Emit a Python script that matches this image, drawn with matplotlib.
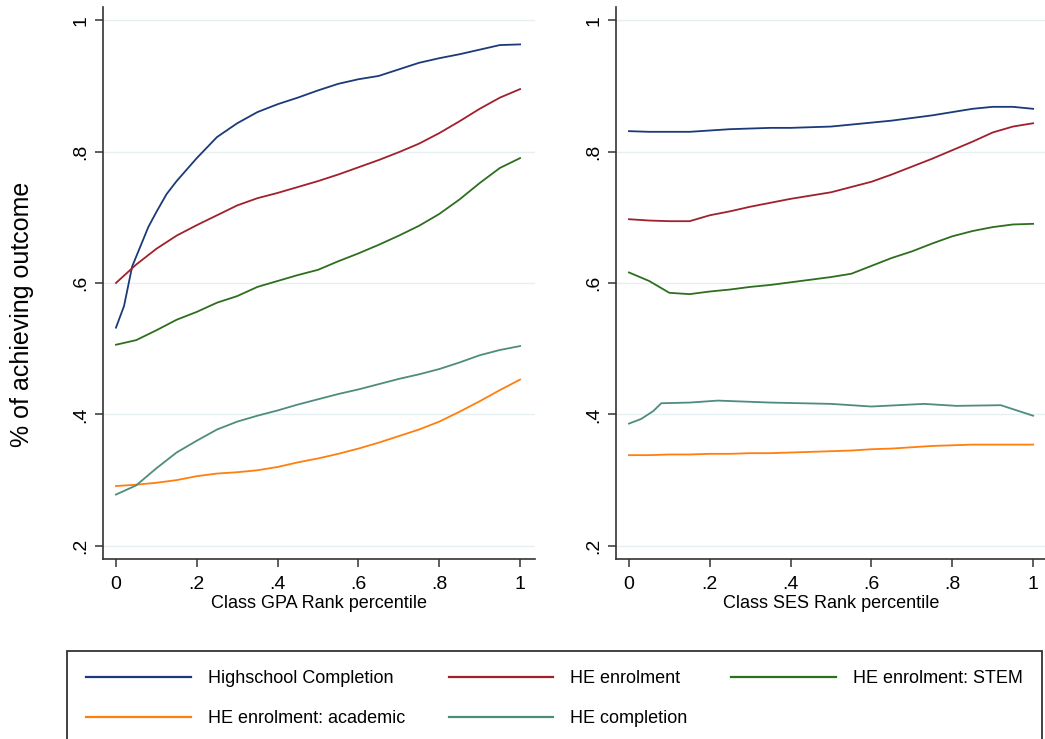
import numpy as np
import matplotlib
matplotlib.use("Agg")
import matplotlib.pyplot as plt
from matplotlib.lines import Line2D

plt.rcParams["font.family"] = ["Liberation Sans", "DejaVu Sans"]

#%%
# data
pct = np.round(np.arange(0, 1.0001, 0.05), 2)

# left panel: Class GPA rank percentile
gpa_hs_x = [0, 0.02, 0.04, 0.06, 0.08, 0.10, 0.125, 0.15, 0.2, 0.25, 0.3, 0.35, 0.4, 0.45,
            0.5, 0.55, 0.6, 0.65, 0.7, 0.75, 0.8, 0.85, 0.9, 0.95, 1.0]
gpa_hs = [0.532, 0.565, 0.625, 0.655, 0.685, 0.708, 0.735, 0.755, 0.79, 0.822, 0.843, 0.86,
          0.872, 0.882, 0.893, 0.903, 0.91, 0.915, 0.925, 0.935, 0.942, 0.948, 0.955, 0.962, 0.963]
gpa_enrol = [0.600, 0.628, 0.652, 0.672, 0.688, 0.703, 0.718, 0.729, 0.737, 0.746, 0.755,
             0.765, 0.776, 0.787, 0.799, 0.812, 0.828, 0.846, 0.865, 0.882, 0.895]
gpa_stem = [0.506, 0.513, 0.528, 0.544, 0.556, 0.570, 0.580, 0.594, 0.603, 0.612, 0.620,
            0.633, 0.645, 0.658, 0.672, 0.687, 0.705, 0.727, 0.752, 0.775, 0.790]
gpa_acad = [0.291, 0.293, 0.296, 0.300, 0.306, 0.310, 0.312, 0.315, 0.320, 0.327, 0.333,
            0.340, 0.348, 0.357, 0.367, 0.377, 0.389, 0.404, 0.420, 0.437, 0.453]
gpa_compl = [0.278, 0.292, 0.318, 0.342, 0.360, 0.377, 0.389, 0.398, 0.406, 0.415, 0.423,
             0.431, 0.438, 0.446, 0.454, 0.461, 0.469, 0.479, 0.490, 0.498, 0.504]

# right panel: Class SES rank percentile
ses_hs = [0.831, 0.830, 0.830, 0.830, 0.832, 0.834, 0.835, 0.836, 0.836, 0.837, 0.838,
          0.841, 0.844, 0.847, 0.851, 0.855, 0.860, 0.865, 0.868, 0.868, 0.865]
ses_enrol = [0.697, 0.695, 0.694, 0.694, 0.703, 0.709, 0.716, 0.722, 0.728, 0.733, 0.738,
             0.746, 0.754, 0.765, 0.777, 0.789, 0.802, 0.815, 0.829, 0.838, 0.843]
ses_stem = [0.616, 0.603, 0.585, 0.583, 0.587, 0.590, 0.594, 0.597, 0.601, 0.605, 0.609,
            0.614, 0.626, 0.638, 0.648, 0.660, 0.671, 0.679, 0.685, 0.689, 0.690]
ses_acad = [0.338, 0.338, 0.339, 0.339, 0.340, 0.340, 0.341, 0.341, 0.342, 0.343, 0.344,
            0.345, 0.347, 0.348, 0.350, 0.352, 0.353, 0.354, 0.354, 0.354, 0.354]
ses_compl_x = [0, 0.03, 0.06, 0.08, 0.15, 0.22, 0.35, 0.5, 0.6, 0.73, 0.81, 0.92, 1.0]
ses_compl = [0.386, 0.393, 0.405, 0.417, 0.418, 0.421, 0.418, 0.416, 0.412, 0.416, 0.413, 0.414, 0.398]

labels = ["Highschool Completion", "HE enrolment", "HE enrolment: STEM",
          "HE enrolment: academic", "HE completion"]
colors = ["#1a3a78", "#a0202c", "#2e6e1e", "#ff7f0e", "#4e8c7c"]

yticks = [0.2, 0.4, 0.6, 0.8, 1.0]
yticklabels = [".2", ".4", ".6", ".8", "1"]
xticks = [0, 0.2, 0.4, 0.6, 0.8, 1.0]
xticklabels = ["0", ".2", ".4", ".6", ".8", "1"]

#%%
fig = plt.figure(figsize=(10.45, 7.39), dpi=100)
ax1 = fig.add_axes([0.0986, 0.2436, 0.4134, 0.7470])
ax2 = fig.add_axes([0.5895, 0.2436, 0.4115, 0.7470])

panels = [
    (ax1, [(gpa_hs_x, gpa_hs), (pct, gpa_enrol), (pct, gpa_stem), (pct, gpa_acad), (pct, gpa_compl)],
     "Class GPA Rank percentile", 1.037),
    (ax2, [(pct, ses_hs), (pct, ses_enrol), (pct, ses_stem), (pct, ses_acad), (ses_compl_x, ses_compl)],
     "Class SES Rank percentile", 1.032),
]

for ax, series, xlabel, xmax in panels:
    for (xs, ys), col, lab in zip(series, colors, labels):
        ax.plot(xs, ys, color=col, lw=1.3, label=lab)
    ax.set_xlim(-0.032, xmax)
    ax.set_ylim(0.18, 1.02)
    ax.set_yticks(yticks)
    ax.set_yticklabels(yticklabels, rotation=90, va="center")
    ax.set_xticks(xticks)
    ax.set_xticklabels(xticklabels)
    ax.grid(axis="y", color="#e6eff2", lw=1.0)
    ax.set_axisbelow(True)
    for s in ["top", "right"]:
        ax.spines[s].set_visible(False)
    for s in ["left", "bottom"]:
        ax.spines[s].set_color("#333333")
        ax.spines[s].set_linewidth(1.2)
    ax.tick_params(length=6, width=1.1, color="#333333", labelsize=14)
    ax.tick_params(axis="x", pad=6)
    ax.tick_params(axis="y", pad=4)
    ax.set_xlabel(xlabel, fontsize=13, labelpad=2)

fig.text(0.021, 0.575, "% of achieving outcome", rotation=90, fontsize=18,
         ha="center", va="center")

# legend, filled column by column -> reorder for row layout
h = [Line2D([], [], color=c, lw=1.6) for c in colors]
order = [0, 3, 1, 4, 2]
leg = fig.legend([h[i] for i in order], [labels[i] for i in order], ncol=3,
                 loc="upper left", bbox_to_anchor=(67 / 1045, 0, 975 / 1045, 1 - 651 / 739),
                 mode="expand", fontsize=13, handlelength=5.8, handletextpad=0.95,
                 borderpad=1.05, labelspacing=1.3, fancybox=False, framealpha=1,
                 edgecolor="#333333", borderaxespad=0)
leg.get_frame().set_linewidth(1.3)

fig.savefig("out.png", dpi=100)
